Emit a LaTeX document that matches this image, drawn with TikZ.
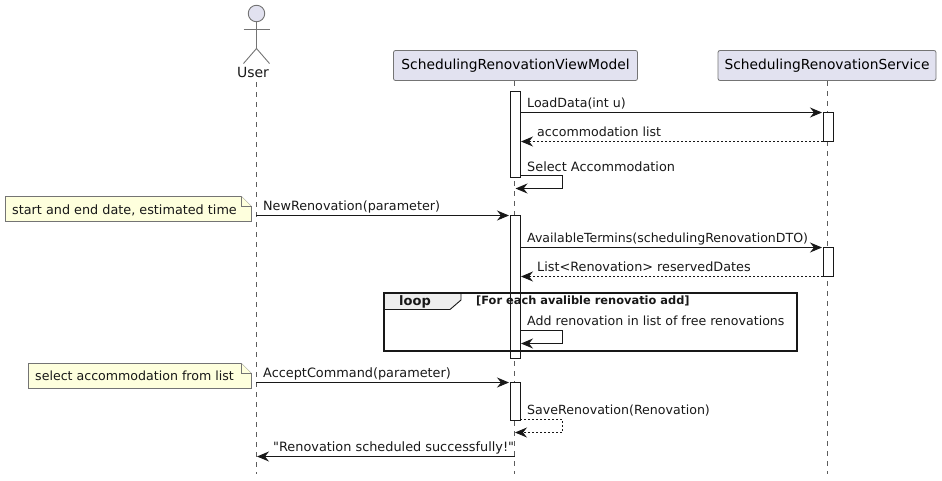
\documentclass[tikz,border=0pt]{standalone}
\usepackage{fontspec}
\setmainfont{DejaVu Sans}
\newfontfamily\plainquote{DejaVu Sans}
\usetikzlibrary{arrows.meta}
\definecolor{partfill}{HTML}{E2E2F0}
\definecolor{notefill}{HTML}{FEFFDD}
\definecolor{ink}{HTML}{181818}
\definecolor{tabfill}{HTML}{EEEEEE}
\tikzset{
  head/.style={-{Stealth[length=12pt,width=10pt,inset=4pt]}},
  msg/.style={head,draw=ink,line width=1pt},
  ret/.style={head,draw=ink,line width=.8pt,dash pattern=on 2pt off 2pt},
  life/.style={draw=ink!70,line width=.6pt,dash pattern=on 5pt off 5pt},
  part/.style={draw=ink!60,line width=.8pt,fill=partfill,rounded corners=2pt,minimum height=30pt,inner sep=0pt,font=\fontsize{13.8}{14}\selectfont},
  activ/.style={draw=ink,line width=.8pt,fill=white,minimum width=10pt,inner sep=0pt},
  lab/.style={anchor=base west,inner sep=0pt,font=\fontsize{12.6}{13}\selectfont,text=ink},
  labw/.style={lab,font=\fontsize{12.85}{13}\selectfont},
  notebox/.style={draw=ink!60,line width=.7pt,fill=notefill},
  stick/.style={draw=ink!60,line width=.9pt}
}
\begin{document}
\begin{tikzpicture}[x=1pt,y=-1pt]
\useasboundingbox (0,0) rectangle (942,480);
% participants
\node[part,minimum width=244pt] (vm) at (515.5,65.5) {SchedulingRenovationViewModel};
\node[part,minimum width=218pt] (svc) at (827,65.5) {SchedulingRenovationService};
\node[lab,anchor=base,font=\fontsize{14}{14}\selectfont] (usr) at (253,77.5) {User};
% lifeline ends
\coordinate (uTop) at (256,82);
\coordinate (uEnd) at (256,474);
\coordinate (vTop) at (514.5,81);
\coordinate (vEnd) at (514.5,474);
\coordinate (sTop) at (827.5,81);
\coordinate (sEnd) at (827.5,474);
\draw[life] (uTop) -- (uEnd);
\draw[life] (vTop) -- (vEnd);
\draw[life] (sTop) -- (sEnd);
% actor
\node[circle,draw=ink!60,line width=.9pt,fill=partfill,minimum size=16.5pt,inner sep=0pt] (uhead) at (256.5,13.5) {};
\coordinate (hip) at (256.5,48.5);
\coordinate (armL) at (243.5,29.5);
\coordinate (armR) at (269.5,29.5);
\coordinate (legL) at (243.5,63.5);
\coordinate (legR) at (269.5,63.5);
\draw[stick] (uhead.south) -- (hip);
\draw[stick] (armL) -- (armR);
\draw[stick] (legL) -- (hip) -- (legR);
% activations
\node[activ,minimum height=85.5pt] (a1) at (515,134.25) {};
\node[activ,minimum height=143pt] (a2) at (515,286.75) {};
\node[activ,minimum height=38pt] (a3) at (515,401.25) {};
\node[activ,minimum height=29pt] (s1) at (828,127) {};
\node[activ,minimum height=29pt] (s2) at (828,261.5) {};
% messages
\coordinate (m1a) at (520,112.5);
\coordinate (m1b) at (822,112.5);
\draw[msg] (m1a) -- (m1b);
\node[lab] (t1) at (527,107) {LoadData(int u)};
\coordinate (m2a) at (823,141.5);
\coordinate (m2b) at (521,141.5);
\draw[ret] (m2a) -- (m2b);
\node[lab] (t2) at (537,136) {accommodation list};
\coordinate (m3a) at (520,175.5);
\coordinate (m3b) at (515.5,188.5);
\draw[msg] (m3a) -- (562.5,175.5) -- (562.5,188.5) -- (m3b);
\node[labw] (t3) at (527,171) {Select Accommodation};
\coordinate (m4a) at (256,215.5);
\coordinate (m4b) at (509,215.5);
\draw[msg] (m4a) -- (m4b);
\node[lab,font=\fontsize{12.75}{13}\selectfont] (t4) at (263,210) {NewRenovation(parameter)};
\coordinate (m5a) at (520,247.5);
\coordinate (m5b) at (822,247.5);
\draw[msg] (m5a) -- (m5b);
\node[lab,font=\fontsize{12.55}{13}\selectfont] (t5) at (527,242) {AvailableTermins(schedulingRenovationDTO)};
\coordinate (m6a) at (823,276.5);
\coordinate (m6b) at (521,276.5);
\draw[ret] (m6a) -- (m6b);
\node[lab,font=\fontsize{12.8}{13}\selectfont] (t6) at (537,271) {List<Renovation> reservedDates};
% loop
\coordinate (fTL) at (383.5,293);
\coordinate (fBR) at (797,351);
\draw[ink,line width=.9pt,fill=tabfill] (fTL) -- (461,293) -- (461,300) -- (450,309.5) -- (383.5,309.5) -- cycle;
\draw[ink,line width=2pt] (fTL) rectangle (fBR);
\node[lab,font=\fontsize{13}{13}\selectfont\bfseries] (lp) at (399,305.5) {loop};
\node[lab,font=\fontsize{11.4}{12}\selectfont\bfseries] (lc) at (476,304) {[For each avalible renovatio add]};
\coordinate (m7a) at (520,330.5);
\coordinate (m7b) at (521,343.5);
\draw[msg] (m7a) -- (562.5,330.5) -- (562.5,343.5) -- (m7b);
\node[lab] (t7) at (527,325) {Add renovation in list of free renovations};
% accept
\coordinate (m8a) at (256,382.5);
\coordinate (m8b) at (509,382.5);
\draw[msg] (m8a) -- (m8b);
\node[labw] (t8) at (263,377) {AcceptCommand(parameter)};
\coordinate (m9a) at (520,419.5);
\coordinate (m9b) at (515,432.5);
\draw[ret] (m9a) -- (562.5,419.5) -- (562.5,432.5) -- (m9b);
\node[lab] (t9) at (527,414.5) {SaveRenovation(Renovation)};
\coordinate (m10a) at (514.5,456.5);
\coordinate (m10b) at (257,456.5);
\draw[msg] (m10a) -- (m10b);
\node[labw] (t10) at (273,451) {\plainquote "Renovation scheduled successfully!"};
% notes
\draw[notebox] (5.5,196.5) -- (241.5,196.5) -- (251.5,206.5) -- (251.5,221.5) -- (5.5,221.5) -- cycle;
\draw[notebox] (241.5,196.5) -- (241.5,206.5) -- (251.5,206.5);
\node[lab,font=\fontsize{12.8}{13}\selectfont] (n1) at (12,214) {start and end date, estimated time};
\draw[notebox] (28.5,363.5) -- (241.5,363.5) -- (251.5,373.5) -- (251.5,388.5) -- (28.5,388.5) -- cycle;
\draw[notebox] (241.5,363.5) -- (241.5,373.5) -- (251.5,373.5);
\node[lab] (n2) at (35,380.5) {select accommodation from list};
\end{tikzpicture}
\end{document}
